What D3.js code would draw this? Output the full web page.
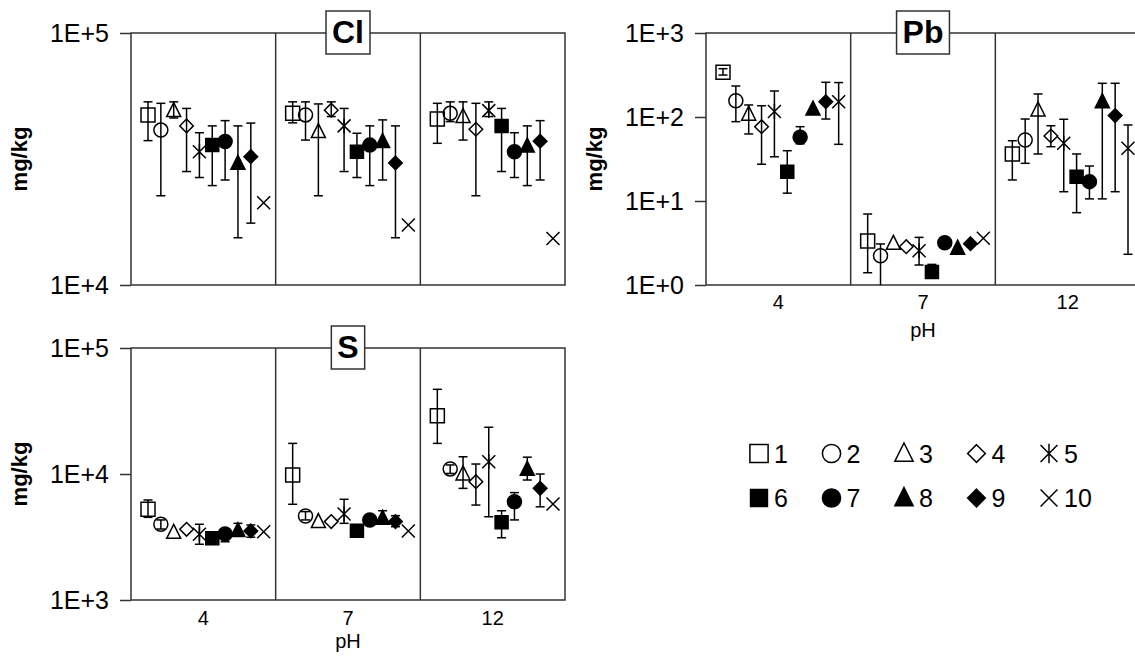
<!DOCTYPE html>
<html>
<head>
<meta charset="utf-8">
<script src="https://cdn.jsdelivr.net/npm/d3@7"></script>
<style>
  body { margin: 0; background: #fff; }
  svg { display: block; font-family: "Liberation Sans", Arial, sans-serif; }
</style>
</head>
<body>
<script>
// pH groups and sample ids
const phLevels = ["4", "7", "12"];
const sampleIds = ["1", "2", "3", "4", "5", "6", "7", "8", "9", "10"];

// Cl (mg/kg): rows = pH 4, 7, 12 ; columns = samples 1..10
const clMean = [
  [47300, 41200, 49200, 42800, 33800, 35900, 37100, 30400, 32300, 21200],
  [48000, 47300, 40600, 49400, 42800, 33800, 35900, 37100, 30500, 17300],
  [45600, 48000, 46600, 41500, 49200, 42800, 33800, 35600, 37200, 15300]
];
const clLow = [
  [37400, 22600, 46000, 28200, 26700, 24800, 26100, 15400, 17600, null],
  [44000, 37600, 22600, 46600, 28200, 26700, 24800, 26100, 15400, null],
  [36500, 44500, 37600, 22600, 46600, 28200, 26700, 24800, 26100, null]
];
const clHigh = [
  [53300, 52600, 53300, 50200, 40200, 42800, 44900, 42800, 43900, null],
  [53300, 53300, 52300, 53300, 50200, 40000, 42800, 45200, 42800, null],
  [52600, 53300, 53300, 52600, 53300, 50200, 40200, 42800, 44900, null]
];

// Pb (mg/kg)
const pbMean = [
  [340, 156, 108, 76.7, 116, 22.3, 57.3, 124, 152, 152],
  [3.34, 2.23, 3.13, 2.86, 2.56, 1.43, 3.19, 2.74, 3.1, 3.6],
  [36.3, 53.2, 121, 59.4, 48.7, 19.5, 17.0, 152, 104, 42.4]
];
const pbLow = [
  [316, 88, 62.8, 27.4, 33.6, 12.4, 48, null, 94.6, 47.3],
  [1.40, 0.9, null, null, 1.73, 1.25, null, null, null, null],
  [17.8, 28.1, 36.3, 44.3, 12.9, 7.26, 10.6, 10.6, 12.9, 2.32]
];
const pbHigh = [
  [376, 234, 139, 136, 204, 39.7, 76.7, null, 259, 257],
  [7.0, 3.08, null, null, 3.69, 1.76, null, null, null, null],
  [52.2, 94.6, 188, 78.7, 94, 36.3, 26.1, 252, 252, 80.4]
];

// S (mg/kg)
const sMean = [
  [5250, 3990, 3440, 3640, 3320, 3090, 3340, 3550, 3530, 3480],
  [9820, 4640, 4190, 4190, 4820, 3550, 4320, 4450, 4190, 3530],
  [29000, 10970, 10000, 8690, 12530, 4140, 6030, 10900, 7690, 5780]
];
const sLow = [
  [4530, 3660, null, null, 2770, null, 2900, 3300, 3150, null],
  [5750, 4320, null, null, 4060, null, null, 4080, 3820, null],
  [17500, 10100, 7690, 5670, 4580, 3120, 4320, 8960, 5490, null]
];
const sHigh = [
  [6220, 4320, null, null, 3990, null, 3600, 4060, 3940, null],
  [17500, 5030, null, null, 6300, null, null, 5110, 4670, null],
  [47000, 11800, 13700, 12000, 23500, 5110, 7120, 13600, 10000, null]
];

// marker style per sample
const markerKind = ["square", "circle", "triangle", "diamond", "asterisk",
                    "square", "circle", "triangle", "diamond", "cross"];
const markerFilled = [false, false, false, false, false, true, true, true, true, false];

const W = 1135, H = 661;
const svg = d3.select("body").append("svg")
  .attr("width", W).attr("height", H)
  .attr("viewBox", `0 0 ${W} ${H}`);
svg.append("rect").attr("width", W).attr("height", H).attr("fill", "#fff");

function markerPath(kind, r) {
  const p = d3.path();
  if (kind === "square") {
    p.rect(-r, -r, 2 * r, 2 * r);
  } else if (kind === "circle") {
    p.moveTo(r, 0);
    p.arc(0, 0, r, 0, 2 * Math.PI);
    p.closePath();
  } else if (kind === "triangle") {
    p.moveTo(0, -r * 1.15);
    p.lineTo(r, r * 0.85);
    p.lineTo(-r, r * 0.85);
    p.closePath();
  } else if (kind === "diamond") {
    p.moveTo(0, -r);
    p.lineTo(r, 0);
    p.lineTo(0, r);
    p.lineTo(-r, 0);
    p.closePath();
  } else if (kind === "cross" || kind === "asterisk") {
    p.moveTo(-r, -r); p.lineTo(r, r);
    p.moveTo(r, -r); p.lineTo(-r, r);
    if (kind === "asterisk") { p.moveTo(0, -r * 1.15); p.lineTo(0, r * 1.15); }
  }
  return p.toString();
}

function markerSize(i) {
  const k = markerKind[i];
  if (k === "circle") return 7;
  if (k === "diamond") return 6.8;
  if (k === "triangle") return 7;
  if (k === "square") return markerFilled[i] ? 6.5 : 7;
  return 6.5;
}

let clipId = 0;

function drawPanel(cfg) {
  const { title, mean, low, high, domain, ticks, left, top, right, bottom } = cfg;

  const y = d3.scaleLog().domain(domain).range([bottom, top]);
  const xGroup = d3.scaleBand().domain(phLevels).range([left, right]);
  const xInner = d3.scalePoint().domain(sampleIds)
    .range([17, xGroup.bandwidth() - 12]);

  const g = svg.append("g");

  const cid = "clip" + (clipId++);
  svg.append("clipPath").attr("id", cid)
    .append("rect").attr("x", left).attr("y", top)
    .attr("width", right - left).attr("height", bottom - top);

  // y axis
  const axis = d3.axisLeft(y)
    .tickValues(ticks)
    .tickFormat(d => "1E+" + Math.round(Math.log10(d)))
    .tickSize(11)
    .tickPadding(11);
  const ax = g.append("g").attr("transform", `translate(${left},0)`).call(axis);
  ax.select(".domain").remove();
  ax.selectAll(".tick line").attr("stroke", "#333").attr("stroke-width", 1.5);
  ax.selectAll(".tick text")
    .attr("fill", "#000")
    .style("font-size", "25px")
    .style("font-family", "'Liberation Sans', Arial, sans-serif");

  // y label
  g.append("text")
    .attr("transform", `translate(${left - 110},${(top + bottom) / 2}) rotate(-90)`)
    .attr("text-anchor", "middle")
    .attr("dominant-baseline", "middle")
    .style("font-size", "22px")
    .style("font-weight", "bold")
    .text("mg/kg");

  // frame and group dividers
  g.append("rect")
    .attr("x", left).attr("y", top)
    .attr("width", right - left).attr("height", bottom - top)
    .attr("fill", "none").attr("stroke", "#333").attr("stroke-width", 1.5);
  g.selectAll(".divider")
    .data(phLevels.slice(1))
    .join("line")
    .attr("x1", d => xGroup(d)).attr("x2", d => xGroup(d))
    .attr("y1", top).attr("y2", bottom)
    .attr("stroke", "#333").attr("stroke-width", 1.5);

  // points
  const pts = [];
  phLevels.forEach((ph, gi) => {
    sampleIds.forEach((s, si) => {
      pts.push({
        x: xGroup(ph) + xInner(s),
        v: mean[gi][si],
        lo: low[gi][si],
        hi: high[gi][si],
        si
      });
    });
  });

  const plot = g.append("g").attr("clip-path", `url(#${cid})`);

  // error bars
  const eb = plot.selectAll(".eb")
    .data(pts.filter(d => d.lo != null && d.hi != null))
    .join("g")
    .attr("stroke", "#000").attr("stroke-width", 1.5);
  eb.append("line")
    .attr("x1", d => d.x).attr("x2", d => d.x)
    .attr("y1", d => y(d.lo)).attr("y2", d => y(d.hi));
  eb.append("line")
    .attr("x1", d => d.x - 4.5).attr("x2", d => d.x + 4.5)
    .attr("y1", d => y(d.hi)).attr("y2", d => y(d.hi));
  eb.append("line")
    .attr("x1", d => d.x - 4.5).attr("x2", d => d.x + 4.5)
    .attr("y1", d => y(d.lo)).attr("y2", d => y(d.lo));

  // markers
  plot.selectAll(".mk")
    .data(pts)
    .join("path")
    .attr("transform", d => `translate(${d.x},${y(d.v)})`)
    .attr("d", d => markerPath(markerKind[d.si], markerSize(d.si)))
    .attr("fill", d => markerFilled[d.si] ? "#000" : "none")
    .attr("stroke", "#000")
    .attr("stroke-width", 1.5);

  // x labels
  if (cfg.xLabels) {
    g.selectAll(".xl")
      .data(phLevels)
      .join("text")
      .attr("x", d => xGroup(d) + xGroup.bandwidth() / 2)
      .attr("y", bottom + cfg.tickDy)
      .attr("text-anchor", "middle")
      .attr("dominant-baseline", "middle")
      .style("font-size", "20px")
      .text(d => d);
    g.append("text")
      .attr("x", (left + right) / 2)
      .attr("y", bottom + cfg.titleDy)
      .attr("text-anchor", "middle")
      .attr("dominant-baseline", "middle")
      .style("font-size", "20px")
      .text("pH");
  }

  // title box
  const cx = (left + right) / 2;
  const tb = g.append("g");
  const rect = tb.append("rect");
  const tt = tb.append("text")
    .attr("x", cx).attr("y", top - 1)
    .attr("text-anchor", "middle")
    .attr("dominant-baseline", "central")
    .style("font-size", "32px")
    .style("font-weight", "bold")
    .text(title);
  const tw = tt.node().getComputedTextLength();
  rect.attr("x", cx - tw / 2 - 6).attr("y", top - 22)
    .attr("width", tw + 12).attr("height", 43)
    .attr("fill", "#fff").attr("stroke", "#333").attr("stroke-width", 1.5);
}

drawPanel({
  title: "Cl", mean: clMean, low: clLow, high: clHigh,
  domain: [1e4, 1e5], ticks: [1e4, 1e5],
  left: 131, right: 565, top: 33, bottom: 285
});

drawPanel({
  title: "Pb", mean: pbMean, low: pbLow, high: pbHigh,
  domain: [1, 1e3], ticks: [1, 10, 100, 1000],
  left: 706, right: 1140, top: 33, bottom: 285,
  xLabels: true, tickDy: 19, titleDy: 47
});

drawPanel({
  title: "S", mean: sMean, low: sLow, high: sHigh,
  domain: [1e3, 1e5], ticks: [1e3, 1e4, 1e5],
  left: 131, right: 565, top: 348, bottom: 600,
  xLabels: true, tickDy: 20, titleDy: 43
});

// legend
const legend = svg.append("g");
const legX = d3.scalePoint().domain(d3.range(5)).range([759, 1049]);
const legY = d3.scalePoint().domain([0, 1]).range([453.5, 498]);
sampleIds.forEach((s, i) => {
  const col = i % 5, row = Math.floor(i / 5);
  const item = legend.append("g")
    .attr("transform", `translate(${legX(col)},${legY(row)})`);
  item.append("path")
    .attr("d", markerPath(markerKind[i], markerSize(i) * 1.3))
    .attr("fill", markerFilled[i] ? "#000" : "none")
    .attr("stroke", "#000")
    .attr("stroke-width", 1.5);
  item.append("text")
    .attr("x", 15)
    .attr("y", 0)
    .attr("dominant-baseline", "central")
    .style("font-size", "25px")
    .text(s);
});
</script>
</body>
</html>
